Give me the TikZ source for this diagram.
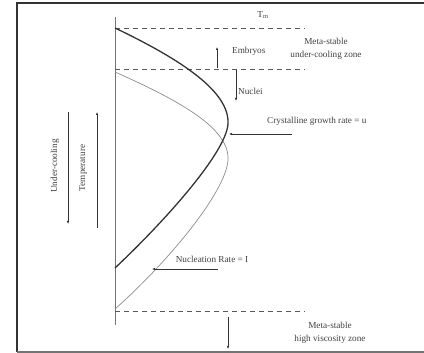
\documentclass[tikz,border=0pt]{standalone}
\usepackage{fontspec}
\setmainfont{Liberation Serif}
\usetikzlibrary{arrows.meta}
\begin{document}
\begin{tikzpicture}[x=1pt,y=-1pt,
  lbl/.style={font=\fontsize{9.2}{11}\selectfont, text=black!75, inner sep=1pt},
  dashline/.style={draw=black!65, dash pattern=on 5pt off 4pt, line width=0.7pt},
  thickcurve/.style={draw=black!80, line width=1.3pt},
  thincurve/.style={draw=black!45, line width=0.7pt},
  arr/.style={draw=black!80, line width=0.6pt, -{Latex[length=3pt,width=2.4pt]}},
  frameline/.style={draw=black!80, line width=1.6pt}]
\useasboundingbox (0,0) rectangle (424,353);
% frame
\draw[frameline] (17,352) -- (17,3) -- (424,3);
\draw[draw=black!55, line width=1.2pt] (17,352) -- (424,352);
% axis
\coordinate (axt) at (115,17);
\coordinate (axb) at (115,325);
\draw[draw=black!55, line width=0.7pt] (axt) -- (axb);
% dashed lines
\coordinate (d1a) at (115,28); \coordinate (d1b) at (305,28);
\coordinate (d2a) at (115,69); \coordinate (d2b) at (305,69);
\coordinate (d3a) at (115,311); \coordinate (d3b) at (305,311);
\draw[dashline] (d1a) -- (d1b);
\draw[dashline] (d2a) -- (d2b);
\draw[dashline] (d3a) -- (d3b);
% curves
\coordinate (tn0) at (115,72);
\coordinate (tnv) at (228,160);
\coordinate (tn1) at (115,309);
\draw[thincurve] (tn0) .. controls (178,100) and (230,128) .. (tnv) .. controls (226,192) and (168,262) .. (tn1);
\coordinate (tk0) at (115,28);
\coordinate (tkv) at (228,124);
\coordinate (tk1) at (115,268);
\draw[thickcurve] (tk0) .. controls (182,60) and (230,92) .. (tkv) .. controls (226,152) and (168,218) .. (tk1);
% labels
\node[lbl] (tm) at (263,15) {T$_{\mathrm{m}}$};
\node[lbl, align=center] (ms1) at (326,49) {Meta-stable\\[2pt]under-cooling zone};
\node[lbl, anchor=west] (emb) at (231,51) {Embryos};
\coordinate (emb0) at (217,68);
\coordinate (emb1) at (217,47);
\draw[arr] (emb0) -- (emb1);
\node[lbl, anchor=west] (nuc) at (237,91) {Nuclei};
\coordinate (nuc0) at (236,70);
\coordinate (nuc1) at (236,101);
\draw[arr] (nuc0) -- (nuc1);
\node[lbl, anchor=west] (cgr) at (266,121) {Crystalline growth rate = u};
\coordinate (cgr0) at (292,134);
\coordinate (cgr1) at (229,134);
\draw[arr] (cgr0) -- (cgr1);
\node[lbl] (nr) at (212,259) {Nucleation Rate = I};
\coordinate (nr0) at (218,269);
\coordinate (nr1) at (152,269);
\draw[arr] (nr0) -- (nr1);
\node[lbl, align=center] (ms2) at (330,333) {Meta-stable\\[2pt]high viscosity zone};
\coordinate (hv0) at (228,317);
\coordinate (hv1) at (228,349);
\draw[arr] (hv0) -- (hv1);
% left arrows
\node[lbl, rotate=90] (uc) at (55,166) {Under-cooling};
\coordinate (uc0) at (68,112);
\coordinate (uc1) at (68,224);
\draw[arr] (uc0) -- (uc1);
\node[lbl, rotate=90] (tp) at (83,168) {Temperature};
\coordinate (tp0) at (97,228);
\coordinate (tp1) at (97,112);
\draw[arr] (tp0) -- (tp1);
\end{tikzpicture}
\end{document}
